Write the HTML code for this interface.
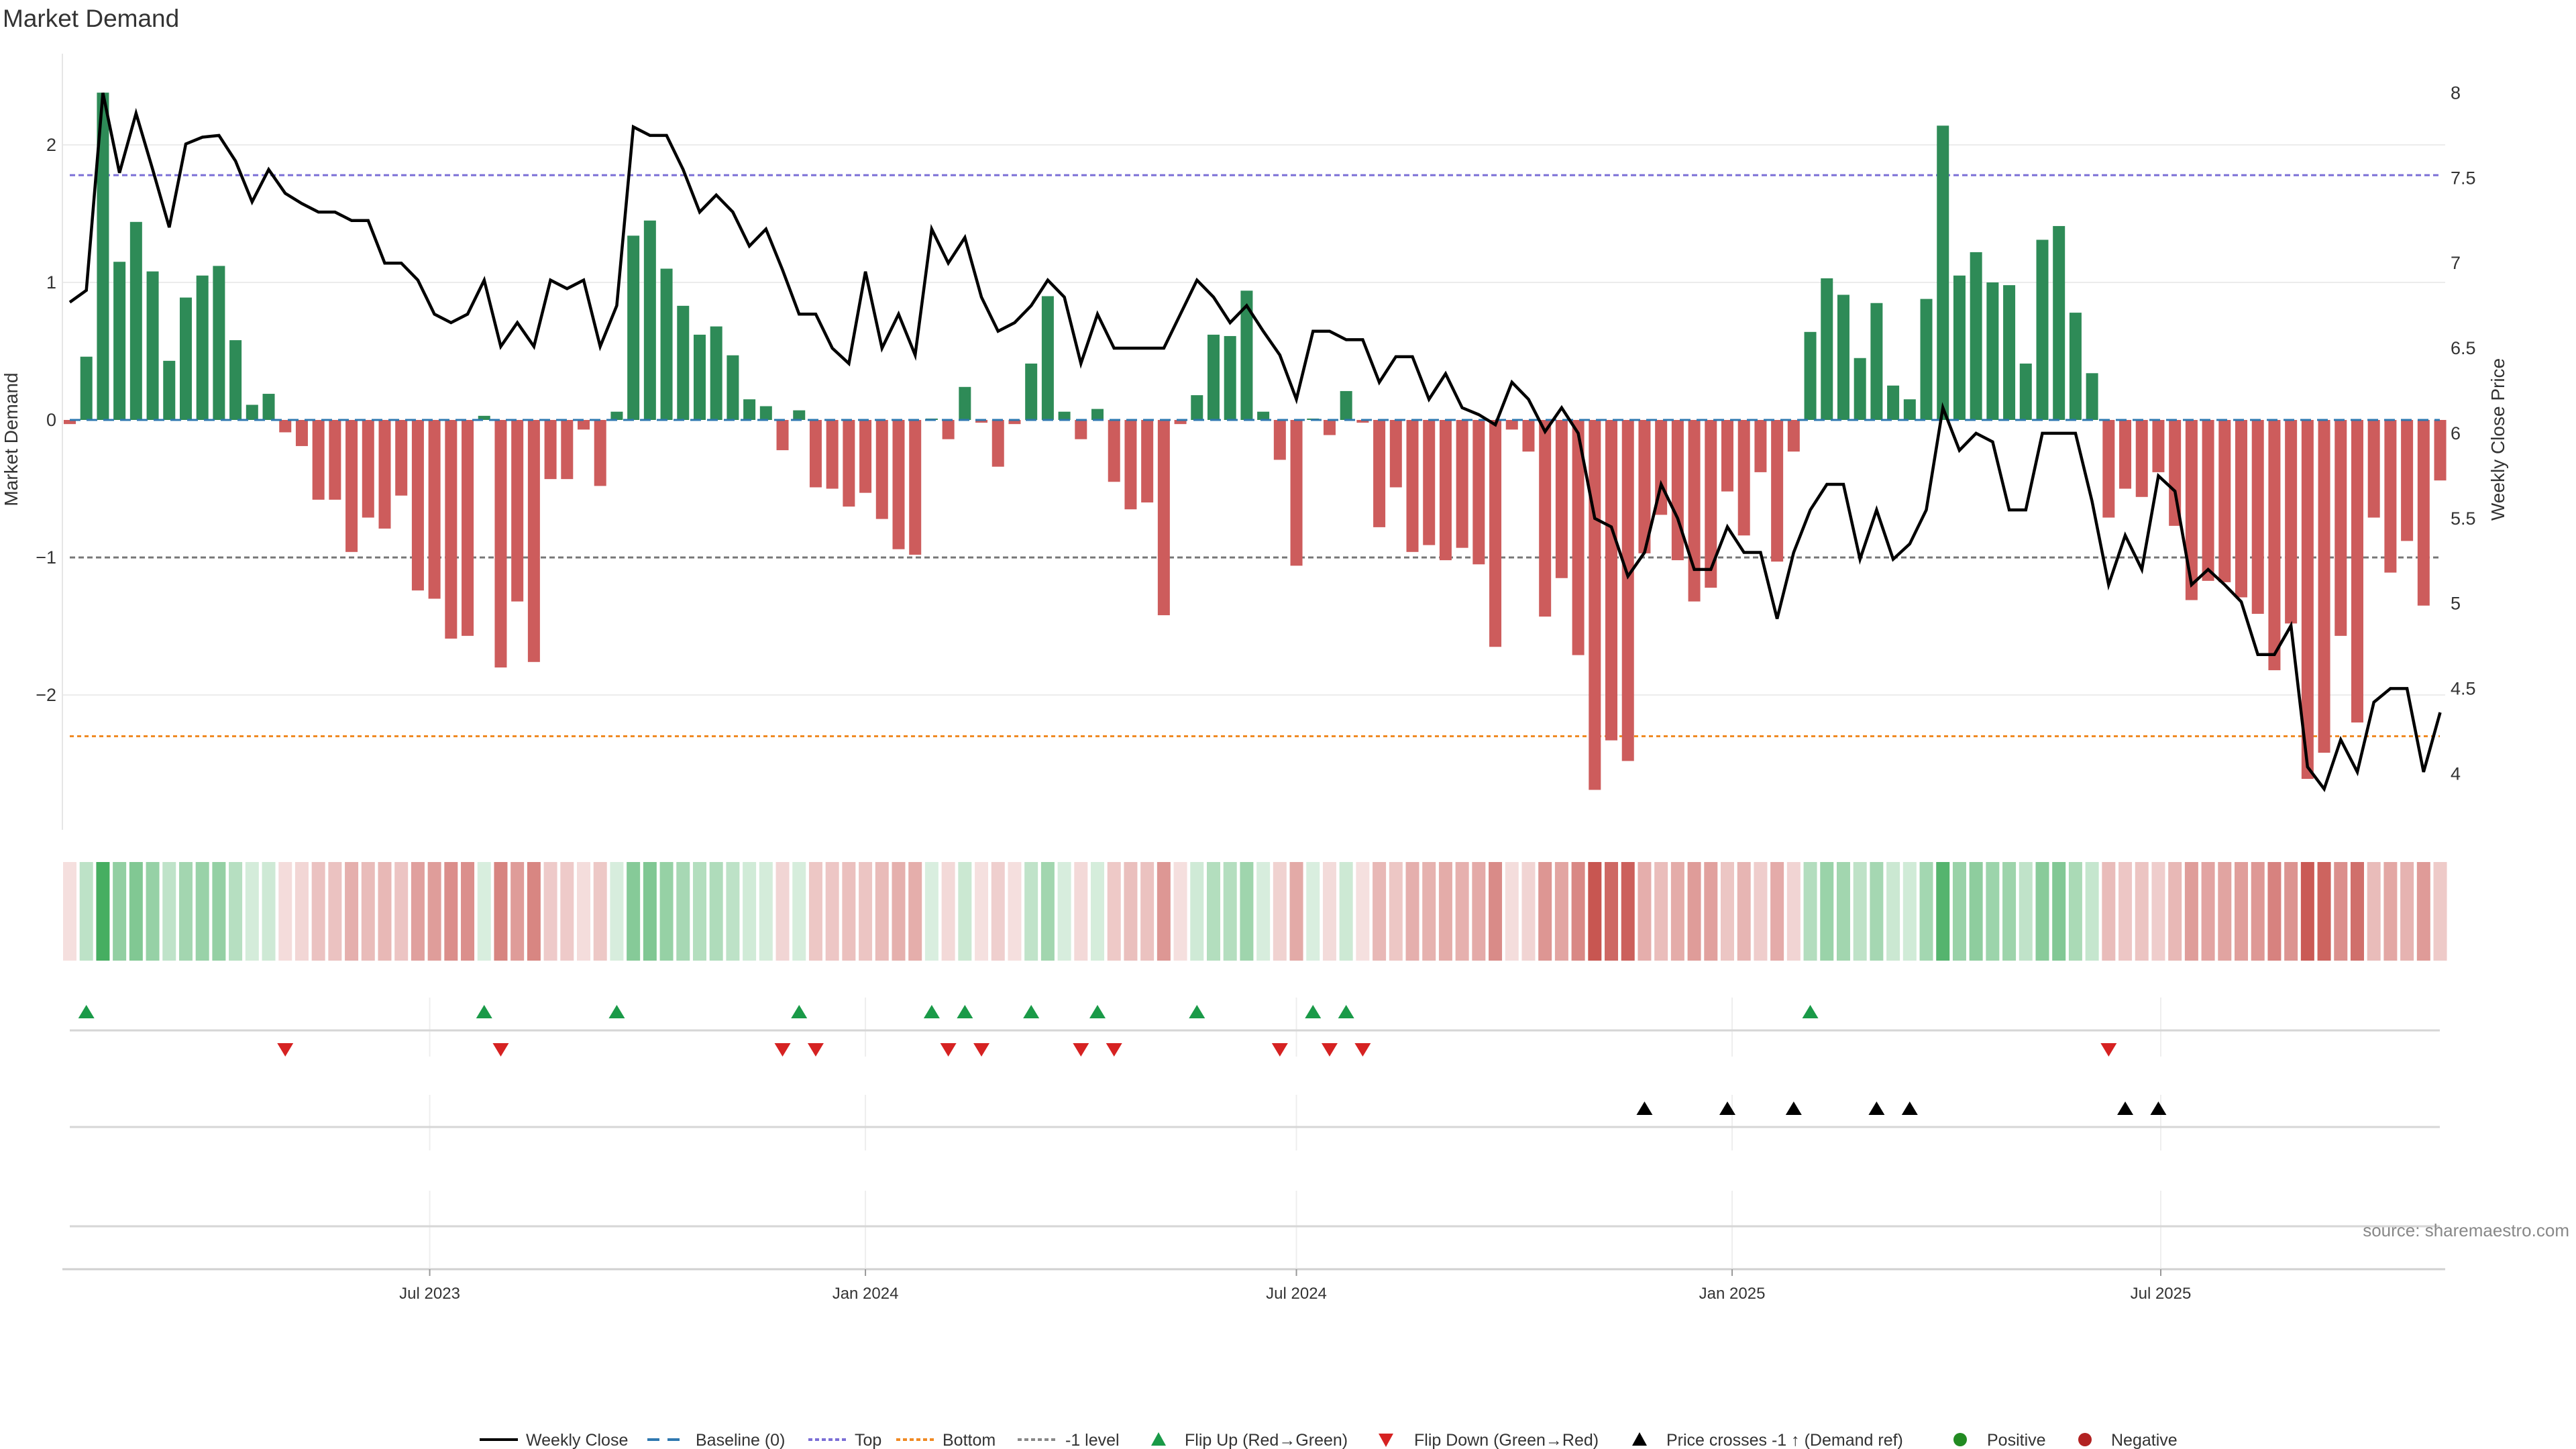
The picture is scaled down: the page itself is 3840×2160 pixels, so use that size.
<!DOCTYPE html>
<html><head><meta charset="utf-8"><title>Market Demand</title>
<style>
html,body{margin:0;padding:0;background:#fff;}
svg{display:block;font-family:"Liberation Sans","DejaVu Sans",sans-serif;}
</style></head>
<body>
<svg id="chart" width="3840" height="2160" viewBox="0 0 3840 2160" xmlns="http://www.w3.org/2000/svg">
<rect width="3840" height="2160" fill="#fff"/>
<text x="4" y="40" font-size="37" fill="#333">Market Demand</text>
<g id="grid"></g>
<g id="refs"></g>
<g id="bars"></g>
<g id="line"></g>
<g id="heat"></g>
<g id="panels"></g>
<g id="axes"></g>
<text transform="translate(26,655) rotate(-90)" text-anchor="middle" font-size="28" fill="#333">Market Demand</text>
<text transform="translate(3733,655) rotate(-90)" text-anchor="middle" font-size="28" fill="#333">Weekly Close Price</text>
<text x="3830" y="1843" text-anchor="end" font-size="26" fill="#888">source: sharemaestro.com</text>
<g id="legend"></g>
</svg>
<script>
// ---- data ----
const startDate = "2023-01-30";
const demand = [-0.03,0.46,2.38,1.15,1.44,1.08,0.43,0.89,1.05,1.12,0.58,0.11,0.19,-0.09,-0.19,-0.58,-0.58,-0.96,-0.71,-0.79,
-0.55,-1.24,-1.30,-1.59,-1.57,0.03,-1.80,-1.32,-1.76,-0.43,-0.43,-0.07,-0.48,0.06,1.34,1.45,1.10,0.83,0.62,0.68,
0.47,0.15,0.10,-0.22,0.07,-0.49,-0.50,-0.63,-0.53,-0.72,-0.94,-0.98,0.01,-0.14,0.24,-0.02,-0.34,-0.03,0.41,0.90,
0.06,-0.14,0.08,-0.45,-0.65,-0.60,-1.42,-0.03,0.18,0.62,0.61,0.94,0.06,-0.29,-1.06,0.01,-0.11,0.21,-0.02,-0.78,
-0.49,-0.96,-0.91,-1.02,-0.93,-1.05,-1.65,-0.07,-0.23,-1.43,-1.15,-1.71,-2.69,-2.33,-2.48,-0.97,-0.69,-1.02,-1.32,-1.22,
-0.52,-0.84,-0.38,-1.03,-0.23,0.64,1.03,0.91,0.45,0.85,0.25,0.15,0.88,2.14,1.05,1.22,1.00,0.98,0.41,1.31,
1.41,0.78,0.34,-0.71,-0.50,-0.56,-0.38,-0.77,-1.31,-1.17,-1.18,-1.29,-1.41,-1.82,-1.48,-2.61,-2.42,-1.57,-2.20,-0.71,
-1.11,-0.88,-1.35,-0.44];
const price = [6.77,6.84,8.00,7.53,7.88,7.55,7.21,7.70,7.74,7.75,7.60,7.36,7.55,7.41,7.35,7.30,7.30,7.25,7.25,7.00,
7.00,6.90,6.70,6.65,6.70,6.90,6.51,6.65,6.51,6.90,6.85,6.90,6.51,6.75,7.80,7.75,7.75,7.55,7.30,7.40,
7.30,7.10,7.20,6.96,6.70,6.70,6.50,6.41,6.95,6.50,6.70,6.46,7.20,7.00,7.15,6.80,6.60,6.65,6.75,6.90,
6.80,6.41,6.70,6.50,6.50,6.50,6.50,6.70,6.90,6.80,6.65,6.75,6.60,6.46,6.20,6.60,6.60,6.55,6.55,6.30,
6.45,6.45,6.20,6.35,6.15,6.11,6.05,6.30,6.20,6.01,6.15,6.00,5.50,5.45,5.16,5.30,5.70,5.50,5.20,5.20,
5.45,5.30,5.30,4.91,5.30,5.55,5.70,5.70,5.26,5.55,5.26,5.35,5.55,6.15,5.90,6.00,5.95,5.55,5.55,6.00,
6.00,6.00,5.60,5.11,5.40,5.20,5.75,5.66,5.11,5.20,5.11,5.01,4.70,4.70,4.87,4.04,3.91,4.20,4.01,4.42,
4.50,4.50,4.01,4.36];
const leftTicks = [2,1,0,-1,-2];
const leftTickLabels = ["2","1","0","\u22121","\u22122"];
const rightTicks = [8,7.5,7,6.5,6,5.5,5,4.5,4];
const rightTickLabels = ["8","7.5","7","6.5","6","5.5","5","4.5","4"];
const xTickDates = ["2023-07-01","2024-01-01","2024-07-01","2025-01-01","2025-07-01"];
const xTickLabels = ["Jul 2023","Jan 2024","Jul 2024","Jan 2025","Jul 2025"];
const topLevel = 1.78;
const bottomLevel = -2.30;
const minusOneLevel = -1;
const priceRefLevel = 5.27;

// ---- scales ----
const NS = "http://www.w3.org/2000/svg";
const t0 = Date.parse(startDate);
const DAY = 86400000;
function xDate(d){ return 104 + (Date.parse(d) - t0) / DAY / 7 * 24.71; }
function xIdx(i){ return 104 + i * 24.71; }
function yD(v){ return 626 - 205 * v; }
function yP(p){ return 138.5 + (8 - p) * 253.7; }
const X0 = 93, X1 = 3645;

function mk(tag, attrs, parent){
  const e = document.createElementNS(NS, tag);
  for (const k in attrs) e.setAttribute(k, attrs[k]);
  if (parent) parent.appendChild(e);
  return e;
}
const G = id => document.getElementById(id);

// grid
const grid = G('grid');
[2,1,-2].forEach(v => {
  const l = mk('line', {x1:X0, x2:X1, y1:yD(v), y2:yD(v), stroke:'#ececec', 'stroke-width':2}, grid);
  
  
});
const axL = mk('line', {x1:X0, x2:X0, y1:80, y2:1237, stroke:'#e6e6e6', 'stroke-width':2}, grid);



// reference lines
const refs = G('refs');
const rTop = mk('line', {x1:104, x2:3637, y1:yD(topLevel), y2:yD(topLevel), stroke:'#7b6fd6', 'stroke-width':3, 'stroke-dasharray':'8 5'}, refs);


const rBot = mk('line', {x1:104, x2:3637, y1:yD(bottomLevel), y2:yD(bottomLevel), stroke:'#f08a24', 'stroke-width':3, 'stroke-dasharray':'6 5'}, refs);


const rM1 = mk('line', {x1:104, x2:3637, y1:yD(minusOneLevel), y2:yD(minusOneLevel), stroke:'#777', 'stroke-width':3, 'stroke-dasharray':'8 5'}, refs);



// bars
const bars = G('bars');
demand.forEach((v, i) => {
  const x = xIdx(i);
  const y0 = yD(0), y1 = yD(v);
  const r = mk('rect', {x:x-9, y:Math.min(y0,y1), width:18, height:Math.max(1,Math.abs(y1-y0)), fill: v >= 0 ? '#2e8b57' : '#cd5c5c'}, bars);
  
  
});
const base = mk('line', {x1:104, x2:3637, y1:yD(0), y2:yD(0), stroke:'#2f78b0', 'stroke-width':3, 'stroke-dasharray':'16 9'}, bars);



// price line
const pts = price.map((p, i) => xIdx(i).toFixed(1) + ',' + yP(p).toFixed(1)).join(' ');
const pl = mk('polyline', {points:pts, fill:'none', stroke:'#000', 'stroke-width':4.5, 'stroke-linejoin':'miter'}, G('line'));



// heatmap strip
const heat = G('heat');
const maxAbs = 2.7;
demand.forEach((v, i) => {
  const a = Math.min(1, 0.18 + 0.82 * Math.abs(v) / maxAbs);
  const col = v >= 0 ? 'rgba(50,165,80,' + a.toFixed(3) + ')' : 'rgba(200,85,80,' + a.toFixed(3) + ')';
  const c = mk('rect', {x:xIdx(i)-10, y:1285, width:20, height:147, fill:col}, heat);
  
  
});

// panels
const pan = G('panels');
[[1487,1575],[1632,1715],[1775,1890]].forEach(seg => {
  xTickDates.forEach(d => {
    const gl = mk('line', {x1:xDate(d), x2:xDate(d), y1:seg[0], y2:seg[1], stroke:'#eeeeee', 'stroke-width':2}, pan);
    
    
  });
});
[1536, 1680, 1828].forEach(y => {
  const hl = mk('line', {x1:104, x2:3637, y1:y, y2:y, stroke:'#d6d6d6', 'stroke-width':3}, pan);
  
  
});
function tri(x, y, up, fill, name){
  const p = up ? [[x-12,y+10],[x+12,y+10],[x,y-10]] : [[x-12,y-10],[x+12,y-10],[x,y+10]];
  const t = mk('polygon', {points:p.map(q=>q.join(',')).join(' '), fill:fill}, pan);
  
  
}
for (let i = 1; i < demand.length; i++){
  if (demand[i-1] < 0 && demand[i] >= 0) tri(xIdx(i), 1508, true, '#1a9a48', 'flip-up-marker');
  if (demand[i-1] >= 0 && demand[i] < 0) tri(xIdx(i), 1565, false, '#d62222', 'flip-down-marker');
  if (price[i-1] < priceRefLevel && price[i] >= priceRefLevel) tri(xIdx(i), 1652, true, '#000', 'price-cross-marker');
}

// axes
const ax = G('axes');
const xa = mk('line', {x1:93, x2:3645, y1:1892, y2:1892, stroke:'#d0d0d0', 'stroke-width':3}, ax);


xTickDates.forEach((d, k) => {
  const x = xDate(d);
  const tk = mk('line', {x1:x, x2:x, y1:1892, y2:1902, stroke:'#999', 'stroke-width':2}, ax);
  
  
  const tl = mk('text', {x:x, y:1936, 'text-anchor':'middle', 'font-size':24, fill:'#333'}, ax);
  tl.textContent = xTickLabels[k];
  
  
});
leftTicks.forEach((v, k) => {
  const tl = mk('text', {x:84, y:yD(v)+9, 'text-anchor':'end', 'font-size':27, fill:'#333'}, ax);
  tl.textContent = leftTickLabels[k];
  
  
});
rightTicks.forEach((v, k) => {
  const tl = mk('text', {x:3653, y:yP(v)+9, 'text-anchor':'start', 'font-size':27, fill:'#333'}, ax);
  tl.textContent = rightTickLabels[k];
  
  
});

// legend
const lg = G('legend');
const LY = 2146;
function ltext(x, s){
  const t = mk('text', {x:x, y:LY+9, 'font-size':25, fill:'#333'}, lg);
  t.textContent = s;
  
  
}
function lline(x1, x2, stroke, dash, w){
  const l = mk('line', {x1:x1, x2:x2, y1:LY, y2:LY, stroke:stroke, 'stroke-width':w}, lg);
  if (dash) l.setAttribute('stroke-dasharray', dash);
  
  
}
lline(715, 772, '#000', null, 4); ltext(784, 'Weekly Close');
lline(965, 1022, '#2f78b0', '18 12', 4); ltext(1037, 'Baseline (0)');
lline(1205, 1262, '#7b6fd6', '6 4', 4); ltext(1274, 'Top');
lline(1336, 1393, '#f08a24', '6 4', 4); ltext(1405, 'Bottom');
lline(1517, 1574, '#888', '6 4', 4); ltext(1588, '-1 level');
function ltri(x, up, fill){
  const y = LY;
  const p = up ? [[x-11,y+9],[x+11,y+9],[x,y-11]] : [[x-11,y-9],[x+11,y-9],[x,y+11]];
  const t = mk('polygon', {points:p.map(q=>q.join(',')).join(' '), fill:fill}, lg);
  
  
}
ltri(1727, true, '#1a9a48'); ltext(1766, 'Flip Up (Red\u2192Green)');
ltri(2066, false, '#d62222'); ltext(2108, 'Flip Down (Green\u2192Red)');
ltri(2444, true, '#000'); ltext(2484, 'Price crosses -1 \u2191 (Demand ref)');
const d1 = mk('circle', {cx:2922, cy:LY, r:10, fill:'#228b22'}, lg);


ltext(2962, 'Positive');
const d2 = mk('circle', {cx:3108, cy:LY, r:10, fill:'#b22222'}, lg);


ltext(3147, 'Negative');
</script>
</body></html>
